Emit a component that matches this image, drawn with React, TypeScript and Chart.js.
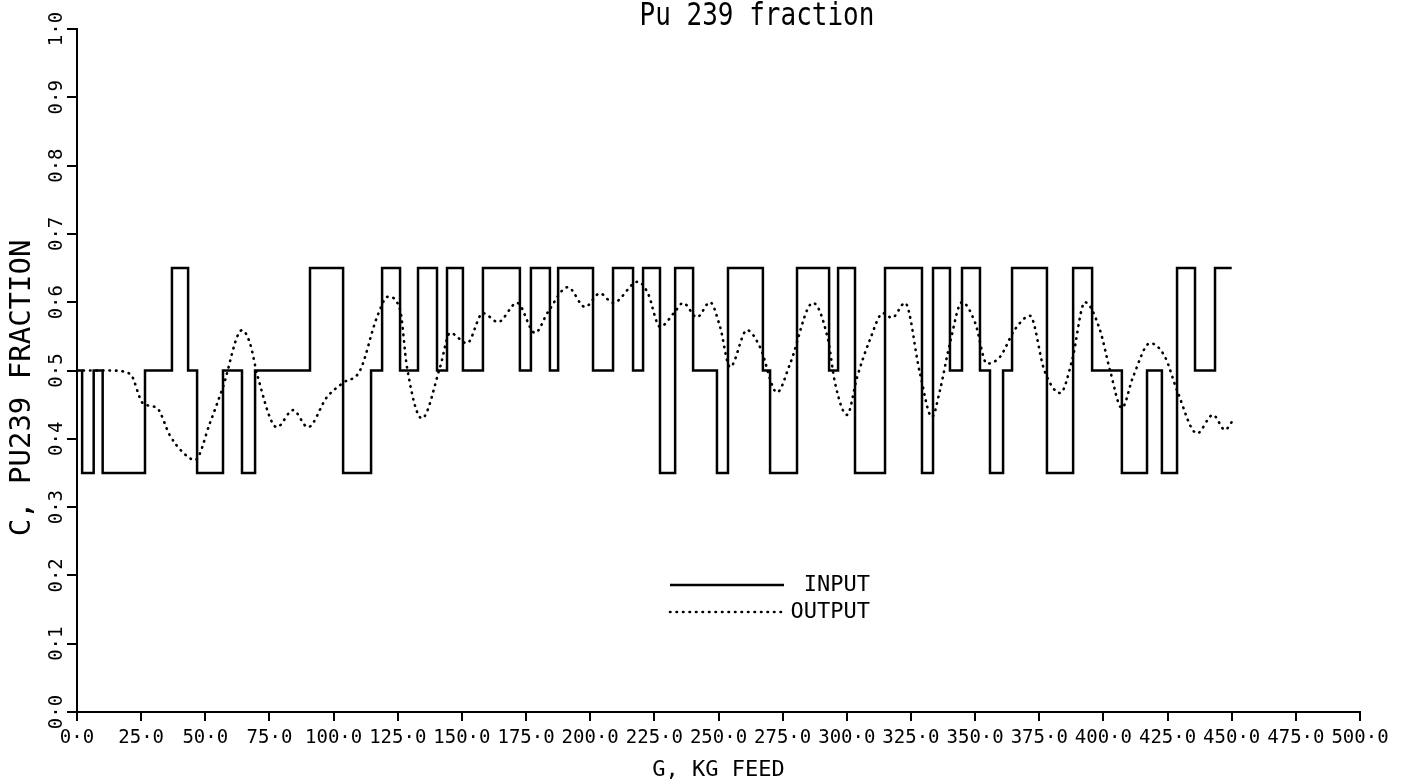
import React, { useEffect, useRef } from 'react';
import { Chart, registerables } from 'chart.js';

Chart.register(...registerables);

const TITLE = 'Pu 239 fraction';
const X_TITLE = 'G, KG FEED';
const Y_TITLE = 'C, PU239 FRACTION  ';

const X_TICKS = [0, 25, 50, 75, 100, 125, 150, 175, 200, 225, 250, 275, 300, 325, 350, 375, 400, 425, 450, 475, 500];
const Y_TICKS = [0, 0.1, 0.2, 0.3, 0.4, 0.5, 0.6, 0.7, 0.8, 0.9, 1.0];

// INPUT: step function, each level holds from its x until the next x
const INPUT_X = [0, 2, 6.5, 10, 26.5, 37, 43.3, 46.8, 56.9, 64.3, 69.4, 90.8, 103.7, 114.6, 118.9, 125.9, 132.9, 140.3, 144.2, 150.4, 158.2, 172.6, 176.9, 184.3, 187.5, 201.1, 208.9, 216.7, 220.6, 227.2, 233.1, 240.1, 249.4, 253.7, 267.3, 270.1, 280.6, 293.1, 296.6, 303.2, 314.9, 329.3, 333.6, 340.2, 344.9, 351.9, 355.8, 360.9, 364.4, 378.0, 388.2, 395.6, 407.2, 417.0, 422.8, 428.7, 435.7, 443.5, 450];
const INPUT_Y = [0.5, 0.35, 0.5, 0.35, 0.5, 0.65, 0.5, 0.35, 0.5, 0.35, 0.5, 0.65, 0.35, 0.5, 0.65, 0.5, 0.65, 0.5, 0.65, 0.5, 0.65, 0.5, 0.65, 0.5, 0.65, 0.5, 0.65, 0.5, 0.65, 0.35, 0.65, 0.5, 0.35, 0.65, 0.5, 0.35, 0.65, 0.5, 0.65, 0.35, 0.65, 0.35, 0.65, 0.5, 0.65, 0.5, 0.35, 0.5, 0.65, 0.35, 0.65, 0.5, 0.35, 0.5, 0.35, 0.65, 0.5, 0.65, 0.65];

const OUTPUT_X = [0, 5, 13, 20.7, 25.7, 31.2, 36.2, 41.3, 46, 51.8, 56.9, 64.3, 67.4, 70.5, 77.9, 84.2, 90, 97.4, 103.7, 110.3, 116.9, 121.2, 125.9, 128.6, 134.4, 141.5, 145.4, 152, 158.2, 164.1, 171.5, 178.5, 183.6, 191.3, 198, 203.8, 208.9, 218.6, 222.5, 227.2, 233, 236.2, 241.6, 246.7, 250.6, 254.5, 261.1, 266.2, 272.8, 277.9, 286.8, 292.7, 295.4, 300.1, 304, 309, 314.1, 317.6, 322.7, 328.5, 333.2, 336.3, 340.2, 344.9, 350, 354.6, 359.7, 365.5, 371.4, 377, 383.2, 387.8, 392.8, 398.6, 402.6, 407.2, 411.5, 418.2, 424, 428.7, 436.5, 442.7, 447.4, 450.1];
const OUTPUT_Y = [0.5, 0.5, 0.5, 0.495, 0.452, 0.445, 0.405, 0.38, 0.369, 0.423, 0.476, 0.559, 0.54, 0.49, 0.417, 0.442, 0.417, 0.461, 0.482, 0.5, 0.578, 0.608, 0.589, 0.505, 0.43, 0.505, 0.555, 0.54, 0.584, 0.571, 0.599, 0.555, 0.586, 0.622, 0.593, 0.613, 0.599, 0.63, 0.613, 0.564, 0.586, 0.599, 0.578, 0.6, 0.564, 0.505, 0.559, 0.534, 0.468, 0.51, 0.599, 0.545, 0.482, 0.435, 0.49, 0.545, 0.584, 0.577, 0.599, 0.496, 0.432, 0.471, 0.54, 0.6, 0.57, 0.51, 0.52, 0.56, 0.58, 0.5, 0.467, 0.515, 0.6, 0.56, 0.5, 0.445, 0.49, 0.54, 0.52, 0.471, 0.408, 0.435, 0.413, 0.425];

const FONT = '"DejaVu Sans Mono", "Liberation Mono", monospace';
const fmt = (v: number) => v.toFixed(1).replace('.', '\u00B7');

const titlePlugin = {
  id: 'plotterTitle',
  afterDraw(chart: any) {
    const ctx = chart.ctx;
    ctx.save();
    ctx.fillStyle = '#000';
    ctx.font = `26px ${FONT}`;
    ctx.textAlign = 'center';
    ctx.textBaseline = 'alphabetic';
    ctx.translate(757, 25);
    ctx.scale(1, 1.25);
    ctx.fillText(TITLE, 0, 0);
    ctx.restore();
  },
};

const legendPlugin = {
  id: 'inlineLegend',
  afterDraw(chart: any) {
    const ctx = chart.ctx;
    chart.data.datasets.forEach((ds: any, i: number) => {
      const y = 585 + i * 27;
      ctx.save();
      ctx.strokeStyle = '#000';
      ctx.lineWidth = ds.borderWidth;
      ctx.lineCap = ds.borderCapStyle || 'butt';
      ctx.setLineDash(ds.borderDash || []);
      ctx.beginPath();
      ctx.moveTo(670, y);
      ctx.lineTo(784, y);
      ctx.stroke();
      ctx.setLineDash([]);
      ctx.fillStyle = '#000';
      ctx.font = `22px ${FONT}`;
      ctx.textAlign = 'right';
      ctx.textBaseline = 'middle';
      ctx.fillText(ds.label, 870, y);
      ctx.restore();
    });
  },
};

export default function App() {
  const ref = useRef<HTMLCanvasElement | null>(null);

  useEffect(() => {
    if (!ref.current) return;
    const chart = new Chart(ref.current, {
      type: 'line',
      data: {
        datasets: [
          {
            label: 'INPUT',
            data: INPUT_X.map((x, i) => ({ x, y: INPUT_Y[i] })),
            borderColor: '#000',
            borderWidth: 2.5,
            stepped: 'before',
            pointRadius: 0,
            fill: false,
          },
          {
            label: 'OUTPUT',
            data: OUTPUT_X.map((x, i) => ({ x, y: OUTPUT_Y[i] })),
            borderColor: '#000',
            borderWidth: 2.6,
            borderDash: [0.5, 6],
            borderCapStyle: 'round',
            cubicInterpolationMode: 'monotone',
            pointRadius: 0,
            fill: false,
          },
        ],
      },
      options: {
        animation: false,
        responsive: true,
        maintainAspectRatio: false,
        layout: { padding: { left: 0, right: 49, top: 29, bottom: 0 } },
        plugins: {
          legend: { display: false },
          title: { display: false },
          tooltip: { enabled: false },
        },
        scales: {
          x: {
            type: 'linear',
            min: 0,
            max: 500,
            afterBuildTicks: (scale: any) => {
              scale.ticks = X_TICKS.map((v) => ({ value: v }));
            },
            afterFit: (scale: any) => {
              scale.height = 71;
            },
            ticks: {
              color: '#000',
              font: { family: FONT, size: 19 },
              padding: 6,
              maxRotation: 0,
              minRotation: 0,
              autoSkip: false,
              callback: (v: any) => fmt(Number(v)),
            },
            grid: { drawOnChartArea: false, drawTicks: true, tickLength: 9, color: '#000', lineWidth: 2 },
            border: { display: true, color: '#000', width: 2 },
            title: {
              display: true,
              text: X_TITLE,
              color: '#000',
              font: { family: FONT, size: 22 },
              padding: { top: 0, bottom: 0 },
            },
          },
          y: {
            type: 'linear',
            min: 0,
            max: 1,
            afterBuildTicks: (scale: any) => {
              scale.ticks = Y_TICKS.map((v) => ({ value: v }));
            },
            afterFit: (scale: any) => {
              scale.width = 77;
            },
            ticks: {
              color: '#000',
              font: { family: FONT, size: 19 },
              padding: -7,
              minRotation: 90,
              maxRotation: 90,
              crossAlign: 'center',
              autoSkip: false,
              callback: (v: any) => fmt(Number(v)),
            },
            grid: { drawOnChartArea: false, drawTicks: true, tickLength: 10, color: '#000', lineWidth: 2 },
            border: { display: true, color: '#000', width: 2 },
            title: {
              display: true,
              text: Y_TITLE,
              color: '#000',
              font: { family: FONT, size: 29 },
              padding: { top: 5, bottom: 0 },
            },
          },
        },
      },
      plugins: [titlePlugin, legendPlugin],
    } as any);
    return () => chart.destroy();
  }, []);

  return (
    <div style={{ position: 'fixed', left: 0, top: 0, width: 1409, height: 783, background: '#fff' }}>
      <canvas ref={ref} />
    </div>
  );
}
